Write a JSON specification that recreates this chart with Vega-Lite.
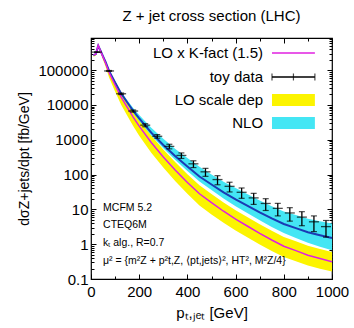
{
  "$schema": "https://vega.github.io/schema/vega-lite/v6.json",
  "width": 241,
  "height": 241,
  "autosize": "none",
  "padding": {"left": 91, "top": 38, "right": 22, "bottom": 49},
  "background": "white",
  "config": {
    "font": "Liberation Sans",
    "view": {"stroke": "black", "strokeWidth": 1.2},
    "axis": {"domain": false, "grid": false, "labelFontSize": 15, "labelColor": "black", "titleFontSize": 15, "titleFontWeight": "normal", "titleColor": "black", "tickColor": "black", "tickWidth": 1}
  },
  "title": {"text": "Z + jet cross section (LHC)", "fontSize": 15, "fontWeight": "normal", "color": "black", "anchor": "middle", "offset": 14},
  "datasets": {
    "curves": [
      {"pt":10,"nlo":270000,"nlo_up":283500,"nlo_dn":256500,"lok":270000,"lo_up":283500,"lo_dn":243000},
      {"pt":20,"nlo":290000,"nlo_up":304500,"nlo_dn":275500,"lok":290000,"lo_up":304500,"lo_dn":261000},
      {"pt":30,"nlo":500000,"nlo_up":525000,"nlo_dn":475000,"lok":520000,"lo_up":546000,"lo_dn":468000},
      {"pt":40,"nlo":360000,"nlo_up":378000,"nlo_dn":342000,"lok":349200,"lo_up":366660,"lo_dn":314280},
      {"pt":50,"nlo":250000,"nlo_up":262500,"nlo_dn":237500,"lok":237500,"lo_up":256500,"lo_dn":199500},
      {"pt":60,"nlo":175000,"nlo_up":183750,"nlo_dn":166250,"lok":162750,"lo_up":179025,"lo_dn":130200},
      {"pt":75,"nlo":95000,"nlo_up":99750,"nlo_dn":90250,"lok":85500,"lo_up":98325,"lo_dn":61560},
      {"pt":100,"nlo":44000,"nlo_up":47520,"nlo_dn":40920,"lok":37400,"lo_up":48620,"lo_dn":24310},
      {"pt":125,"nlo":21500,"nlo_up":23650,"nlo_dn":19780,"lok":16770,"lo_up":23143,"lo_dn":10230},
      {"pt":150,"nlo":12000,"nlo_up":13800,"nlo_dn":10800,"lok":8640,"lo_up":12528,"lo_dn":5011},
      {"pt":175,"nlo":6800,"nlo_up":8160,"nlo_dn":5984,"lok":4488,"lo_up":6732,"lo_dn":2491},
      {"pt":200,"nlo":4100,"nlo_up":5125,"nlo_dn":3526,"lok":2460,"lo_up":3813,"lo_dn":1304},
      {"pt":250,"nlo":1600,"nlo_up":2208,"nlo_dn":1328,"lok":832,"lo_up":1331,"lo_dn":424},
      {"pt":300,"nlo":710,"nlo_up":1065,"nlo_dn":568,"lok":319.5,"lo_up":527,"lo_dn":160},
      {"pt":350,"nlo":335,"nlo_up":542.7,"nlo_dn":261.3,"lok":134,"lo_up":225,"lo_dn":64.3},
      {"pt":400,"nlo":170,"nlo_up":297.5,"nlo_dn":127.5,"lok":59.5,"lo_up":102.3,"lo_dn":28},
      {"pt":450,"nlo":88,"nlo_up":167.2,"nlo_dn":63.4,"lok":28.16,"lo_up":49.3,"lo_dn":12.95},
      {"pt":500,"nlo":52,"nlo_up":101.4,"nlo_dn":35.9,"lok":15.6,"lo_up":27.5,"lo_dn":7.18},
      {"pt":550,"nlo":31,"nlo_up":62,"nlo_dn":20.5,"lok":8.84,"lo_up":15.7,"lo_dn":4.11},
      {"pt":600,"nlo":19.5,"nlo_up":40.95,"nlo_dn":12.29,"lok":5.27,"lo_up":9.48,"lo_dn":2.48},
      {"pt":650,"nlo":12.6,"nlo_up":27.09,"nlo_dn":7.69,"lok":3.28,"lo_up":5.93,"lo_dn":1.56},
      {"pt":700,"nlo":8.2,"nlo_up":18.04,"nlo_dn":4.84,"lok":2.05,"lo_up":3.73,"lo_dn":0.984},
      {"pt":750,"nlo":5.5,"nlo_up":12.38,"nlo_dn":3.14,"lok":1.32,"lo_up":2.43,"lo_dn":0.64},
      {"pt":800,"nlo":3.8,"nlo_up":8.74,"nlo_dn":2.09,"lok":0.874,"lo_up":1.617,"lo_dn":0.428},
      {"pt":850,"nlo":2.9,"nlo_up":6.9,"nlo_dn":1.51,"lok":0.6525,"lo_up":1.214,"lo_dn":0.326},
      {"pt":900,"nlo":2.2,"nlo_up":5.39,"nlo_dn":1.1,"lok":0.484,"lo_up":0.905,"lo_dn":0.244},
      {"pt":950,"nlo":1.8,"nlo_up":4.54,"nlo_dn":0.846,"lok":0.387,"lo_up":0.728,"lo_dn":0.197},
      {"pt":1000,"nlo":1.5,"nlo_up":3.9,"nlo_dn":0.675,"lok":0.315,"lo_up":0.599,"lo_dn":0.164}
    ],
    "toy": [
      {"pt":25,"val":330000,"lo":323400,"hi":336600},
      {"pt":75,"val":95000,"lo":92150,"hi":97850},
      {"pt":125,"val":21000,"lo":19950,"hi":22050},
      {"pt":175,"val":6700,"lo":6231,"hi":7169},
      {"pt":225,"val":2630,"lo":2367,"hi":2893},
      {"pt":275,"val":1260,"lo":1109,"hi":1411},
      {"pt":325,"val":646,"lo":549,"hi":743},
      {"pt":375,"val":355,"lo":291,"hi":419},
      {"pt":425,"val":204,"lo":159,"hi":249},
      {"pt":475,"val":120,"lo":89,"hi":151},
      {"pt":525,"val":72,"lo":51,"hi":93},
      {"pt":575,"val":46,"lo":31.7,"hi":60.3},
      {"pt":625,"val":31,"lo":20.8,"hi":41.2},
      {"pt":675,"val":21.4,"lo":13.9,"hi":28.9},
      {"pt":725,"val":14.8,"lo":9.3,"hi":20.3},
      {"pt":775,"val":10.7,"lo":6.5,"hi":14.9},
      {"pt":825,"val":7.9,"lo":4.6,"hi":11.2},
      {"pt":875,"val":6.0,"lo":3.4,"hi":8.6},
      {"pt":925,"val":4.4,"lo":2.3,"hi":6.5},
      {"pt":975,"val":3.2,"lo":1.6,"hi":4.8}
    ],
    "notes": [
      {"x":50,"y":10.9,"t":"MCFM 5.2"},
      {"x":50,"y":3.55,"t":"CTEQ6M"},
      {"x":50,"y":1.08,"t":"kₜ alg., R=0.7"},
      {"x":50,"y":0.33,"t":"μ² = {m²Z + p²t,Z,  ⟨pt,jets⟩²,  HT²,  M²Z/4}"}
    ],
    "legtext": [
      {"x":714,"y":312000,"label":"LO x K-fact (1.5)"},
      {"x":714,"y":63800,"label":"toy data"},
      {"x":714,"y":13900,"label":"LO scale dep"},
      {"x":714,"y":3040,"label":"NLO"}
    ],
    "leglines": [
      {"x":751,"x2":929,"y":312000,"item":"LO x K-fact (1.5)"},
      {"x":751,"x2":929,"y":63800,"item":"toy data"}
    ],
    "legticks": [
      {"x":751,"y":63800},
      {"x":840,"y":63800},
      {"x":929,"y":63800}
    ],
    "legboxes": [
      {"x":751,"x2":929,"y":9350,"y2":20700,"band":"LO scale dep"},
      {"x":751,"x2":929,"y":2040,"y2":4520,"band":"NLO"}
    ]
  },
  "layer": [
    {
      "data": {"name": "curves"},
      "mark": {"type": "area", "color": "#fcf400"},
      "encoding": {
        "x": {"field": "pt", "type": "quantitative", "scale": {"domain": [0, 1000], "nice": false},
          "axis": {"orient": "bottom", "values": [0,100,200,300,400,500,600,700,800,900,1000], "format": "d",
            "labelExpr": "datum.value % 200 === 0 ? datum.label : ''",
            "tickSize": {"condition": {"test": "datum.value % 200 === 0", "value": -5}, "value": -3},
            "labelPadding": 10, "labelFlush": false, "title": "pₜ,ⱼₑₜ [GeV]", "titlePadding": 6}},
        "y": {"field": "lo_dn", "type": "quantitative", "scale": {"type": "log", "domain": [0.1, 840000], "nice": false},
          "axis": {"orient": "left",
            "values": [0.1,0.2,0.3,0.4,0.5,0.6,0.7,0.8,0.9,1,2,3,4,5,6,7,8,9,10,20,30,40,50,60,70,80,90,100,200,300,400,500,600,700,800,900,1000,2000,3000,4000,5000,6000,7000,8000,9000,10000,20000,30000,40000,50000,60000,70000,80000,90000,100000,200000,300000,400000,500000,600000,700000,800000],
            "format": "~r",
            "labelExpr": "indexof(['0.1','1','10','100','1000','10000','100000'], datum.label) >= 0 ? datum.label : ''",
            "tickSize": {"condition": {"test": "indexof(['0.1','1','10','100','1000','10000','100000'], datum.label) >= 0", "value": -5}, "value": -3},
            "labelPadding": 8, "title": "dσZ+jets/dpt [fb/GeV]", "titleFontSize": 14, "titlePadding": 6}},
        "y2": {"field": "lo_up"}
      }
    },
    {
      "data": {"name": "curves"},
      "mark": {"type": "area", "color": "#44e6f4"},
      "encoding": {
        "x": {"field": "pt", "type": "quantitative", "axis": null},
        "y": {"field": "nlo_dn", "type": "quantitative", "axis": null},
        "y2": {"field": "nlo_up"}
      }
    },
    {
      "data": {"name": "curves"},
      "mark": {"type": "line", "color": "#1a3bb5", "strokeWidth": 2},
      "encoding": {
        "x": {"field": "pt", "type": "quantitative",
          "axis": {"orient": "top", "values": [0,100,200,300,400,500,600,700,800,900,1000], "labels": false, "title": null,
            "tickSize": {"condition": {"test": "datum.value % 200 === 0", "value": -5}, "value": -3}}},
        "y": {"field": "nlo", "type": "quantitative",
          "axis": {"orient": "right", "labels": false, "title": null,
            "values": [0.1,0.2,0.3,0.4,0.5,0.6,0.7,0.8,0.9,1,2,3,4,5,6,7,8,9,10,20,30,40,50,60,70,80,90,100,200,300,400,500,600,700,800,900,1000,2000,3000,4000,5000,6000,7000,8000,9000,10000,20000,30000,40000,50000,60000,70000,80000,90000,100000,200000,300000,400000,500000,600000,700000,800000],
            "format": "~r",
            "tickSize": {"condition": {"test": "indexof(['0.1','1','10','100','1000','10000','100000'], datum.label) >= 0", "value": -5}, "value": -3}}}
      }
    },
    {
      "data": {"name": "curves"},
      "mark": {"type": "line", "color": "#e020e0", "strokeWidth": 1.5},
      "encoding": {
        "x": {"field": "pt", "type": "quantitative", "axis": null},
        "y": {"field": "lok", "type": "quantitative", "axis": null}
      }
    },
    {
      "data": {"name": "toy"},
      "mark": {"type": "rule", "color": "black", "strokeWidth": 1.3},
      "encoding": {
        "x": {"field": "pt", "type": "quantitative", "axis": null},
        "y": {"field": "lo", "type": "quantitative", "axis": null},
        "y2": {"field": "hi"}
      }
    },
    {
      "data": {"name": "toy"},
      "mark": {"type": "tick", "orient": "horizontal", "color": "black", "size": 6, "thickness": 1.2},
      "encoding": {
        "x": {"field": "pt", "type": "quantitative", "axis": null},
        "y": {"field": "lo", "type": "quantitative", "axis": null}
      }
    },
    {
      "data": {"name": "toy"},
      "mark": {"type": "tick", "orient": "horizontal", "color": "black", "size": 6, "thickness": 1.2},
      "encoding": {
        "x": {"field": "pt", "type": "quantitative", "axis": null},
        "y": {"field": "hi", "type": "quantitative", "axis": null}
      }
    },
    {
      "data": {"name": "toy"},
      "mark": {"type": "tick", "orient": "horizontal", "color": "black", "size": 10, "thickness": 1.3},
      "encoding": {
        "x": {"field": "pt", "type": "quantitative", "axis": null},
        "y": {"field": "val", "type": "quantitative", "axis": null}
      }
    },
    {
      "data": {"name": "notes"},
      "mark": {"type": "text", "align": "left", "baseline": "middle", "fontSize": 10.5, "color": "black"},
      "encoding": {
        "x": {"field": "x", "type": "quantitative", "axis": null},
        "y": {"field": "y", "type": "quantitative", "axis": null},
        "text": {"field": "t"}
      }
    },
    {
      "data": {"name": "legtext"},
      "mark": {"type": "text", "align": "right", "baseline": "middle", "fontSize": 15, "color": "black"},
      "encoding": {
        "x": {"field": "x", "type": "quantitative", "axis": null},
        "y": {"field": "y", "type": "quantitative", "axis": null},
        "text": {"field": "label"}
      }
    },
    {
      "data": {"name": "legboxes"},
      "mark": {"type": "rect"},
      "encoding": {
        "x": {"field": "x", "type": "quantitative", "axis": null},
        "x2": {"field": "x2"},
        "y": {"field": "y", "type": "quantitative", "axis": null},
        "y2": {"field": "y2"},
        "color": {"field": "band", "type": "nominal", "scale": {"domain": ["LO scale dep", "NLO"], "range": ["#fcf400", "#44e6f4"]}, "legend": null}
      }
    },
    {
      "data": {"name": "leglines"},
      "mark": {"type": "rule", "strokeWidth": 1.5},
      "encoding": {
        "x": {"field": "x", "type": "quantitative", "axis": null},
        "x2": {"field": "x2"},
        "y": {"field": "y", "type": "quantitative", "axis": null},
        "stroke": {"field": "item", "type": "nominal", "scale": {"domain": ["LO x K-fact (1.5)", "toy data"], "range": ["#e020e0", "black"]}, "legend": null}
      }
    },
    {
      "data": {"name": "legticks"},
      "mark": {"type": "tick", "orient": "vertical", "color": "black", "size": 7, "thickness": 1.2},
      "encoding": {
        "x": {"field": "x", "type": "quantitative", "axis": null},
        "y": {"field": "y", "type": "quantitative", "axis": null}
      }
    }
  ],
  "resolve": {"axis": {"x": "independent", "y": "independent"}}
}
